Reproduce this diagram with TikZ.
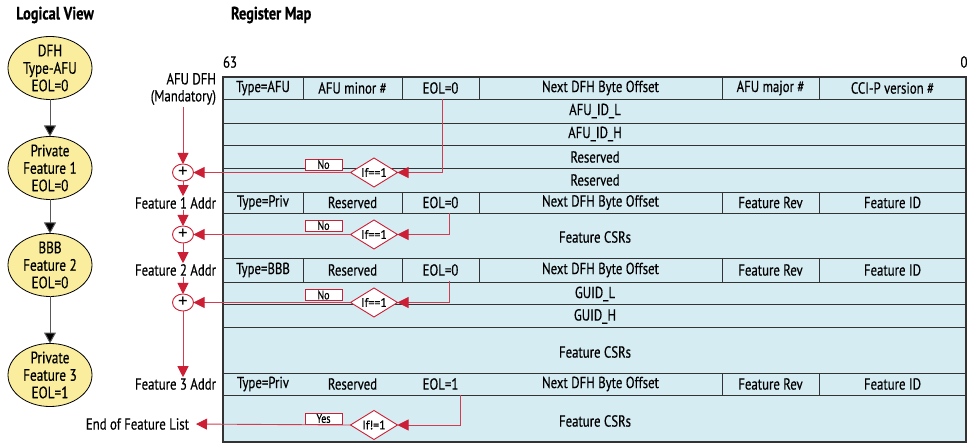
\documentclass[tikz,border=0pt]{standalone}
\usepackage{fontspec}
\setmainfont{PT Sans}[FakeStretch=0.8, FakeBold=0.4]
\newfontfamily\widefont{PT Sans}[FakeStretch=0.95, FakeBold=0.4]
\newfontfamily\thinfont{PT Sans}
\usetikzlibrary{arrows.meta,shapes.geometric,calc}
\definecolor{tblue}{RGB}{213,236,243}
\definecolor{eyel}{RGB}{250,238,158}
\definecolor{ired}{RGB}{204,30,52}
\definecolor{iline}{RGB}{210,60,80}
\begin{document}
\begin{tikzpicture}[x=1pt,y=-1pt,
  every node/.style={inner sep=0pt, outer sep=0pt},
  cell/.style={font=\fontsize{16}{17}\selectfont},
  hcell/.style={cell, minimum height=22pt},
  title/.style={font=\fontsize{18}{20}\selectfont\bfseries},
  lv/.style={ellipse, draw=black, line width=0.8pt, fill=eyel, minimum width=84pt, minimum height=63pt, inner xsep=1pt, inner ysep=-8pt, align=center, font=\fontsize{16.5}{17.5}\selectfont},
  larr/.style={draw=black!65, line width=1pt, -{Triangle[length=11pt,width=12pt,fill=black]}},
  rarr/.style={draw=iline, line width=0.9pt, -{Triangle[length=11pt,width=11pt,color=ired]}},
  addr/.style={anchor=east, font=\fontsize{16}{17}\selectfont, align=right},
  plus/.style={ellipse, draw=ired, fill=white, minimum width=21pt, minimum height=17pt, inner sep=-4pt, line width=0.9pt, font=\thinfont\fontsize{19}{19}\selectfont},
  dec/.style={diamond, draw=ired, fill=white, minimum width=47pt, minimum height=29pt, aspect=1.6, inner sep=-4pt, line width=0.9pt, font=\widefont\fontsize{12.5}{12.5}\selectfont},
  tag/.style={draw=ired, fill=white, minimum width=37pt, minimum height=11pt, inner ysep=-1.5pt, line width=0.9pt, font=\fontsize{12.5}{12.5}\selectfont},
  grid/.style={draw=black!80, line width=0.7pt},
]
\useasboundingbox (0,0) rectangle (968,443);

% titles
\node[title] (tlv) at (55,15) {Logical View};
\node[title, anchor=west] (trm) at (231,15) {Register Map};

% logical view
\node[lv] (l1) at (50,68) {DFH\\Type-AFU\\EOL=0};
\node[lv] (l2) at (50,168) {Private\\Feature 1\\EOL=0};
\node[lv] (l3) at (50,265) {BBB\\Feature 2\\EOL=0};
\node[lv] (l4) at (50,375) {Private\\Feature 3\\EOL=1};
\draw[larr] (l1) -- (l2);
\draw[larr] (l2) -- (l3);
\draw[larr] (l3) -- (l4);

% register map table
\fill[tblue] (223,77) rectangle (966,442);
\foreach \yy in {99,123,145,168,192,213,258,282,304,327,373,395}
  \draw[grid] (223,\yy) -- (966,\yy);
\foreach \xx in {303,402,479,722,819} {
  \draw[grid] (\xx,77) -- (\xx,99);
  \draw[grid] (\xx,192) -- (\xx,213);
  \draw[grid] (\xx,258) -- (\xx,282);
}
\foreach \xx in {722,819}
  \draw[grid] (\xx,373) -- (\xx,395);
\draw[draw=black!80, line width=1.1pt] (223,77) rectangle (966,442);

\node[cell] (b63) at (230,62) {63};
\node[cell] (b0) at (964,62) {0};

% header row AFU
\node[hcell] (c11) at (263,88) {Type=AFU};
\node[hcell] (c12) at (352.5,88) {AFU minor \#};
\node[hcell] (eol1) at (440.5,88) {EOL=0};
\node[hcell] (c14) at (600.5,88) {Next DFH Byte Offset};
\node[hcell] (c15) at (770.5,88) {AFU major \#};
\node[hcell] (c16) at (892.5,88) {CCI-P version \#};
\node[cell] (c2) at (595,111) {AFU\_ID\_L};
\node[cell] (c3) at (595,134) {AFU\_ID\_H};
\node[cell] (c4) at (595,157) {Reserved};
\node[cell] (c5) at (595,180) {Reserved};
% feature 1
\node[hcell] (c61) at (263,202.5) {Type=Priv};
\node[hcell] (c62) at (352.5,202.5) {Reserved};
\node[hcell] (eol2) at (440.5,202.5) {EOL=0};
\node[hcell] (c64) at (600.5,202.5) {Next DFH Byte Offset};
\node[hcell] (c65) at (770.5,202.5) {Feature Rev};
\node[hcell] (c66) at (892.5,202.5) {Feature ID};
\node[cell] (c7) at (595,237) {Feature CSRs};
% feature 2
\node[hcell] (c81) at (263,270) {Type=BBB};
\node[hcell] (c82) at (352.5,270) {Reserved};
\node[hcell] (eol3) at (440.5,270) {EOL=0};
\node[hcell] (c84) at (600.5,270) {Next DFH Byte Offset};
\node[hcell] (c85) at (770.5,270) {Feature Rev};
\node[hcell] (c86) at (892.5,270) {Feature ID};
\node[cell] (c9) at (595,294) {GUID\_L};
\node[cell] (c10) at (595,316.5) {GUID\_H};
\node[cell] (c11b) at (595,352) {Feature CSRs};
% feature 3
\node[hcell] (c121) at (263,384) {Type=Priv};
\node[hcell] (c122) at (352.5,384) {Reserved};
\node[hcell] (eol4) at (440.5,384) {EOL=1};
\node[hcell] (c124) at (600.5,384) {Next DFH Byte Offset};
\node[hcell] (c125) at (770.5,384) {Feature Rev};
\node[hcell] (c126) at (892.5,384) {Feature ID};
\node[cell] (c13) at (595,421) {Feature CSRs};

% address column
\node[addr] (afu) at (216,89) {AFU DFH\\(Mandatory)};
\node[plus] (p1) at (183,172.5) {+};
\node[addr] (f1) at (216,203) {Feature 1 Addr};
\node[plus] (p2) at (183,234.5) {+};
\node[addr] (f2) at (216,270) {Feature 2 Addr};
\node[plus] (p3) at (183,302.5) {+};
\node[addr] (f3) at (216,384) {Feature 3 Addr};
\node[addr] (endl) at (189,424) {End of Feature List};

\draw[rarr] ([yshift=-2pt]afu.south -| p1) -- (p1.north);
\draw[rarr, shorten >=1pt] (p1.south) -- (f1.north -| p1);
\draw[rarr] ([yshift=-1pt]f1.south -| p1) -- (p2.north);
\draw[rarr, shorten >=1pt] (p2.south) -- (f2.north -| p2);
\draw[rarr] ([yshift=-1pt]f2.south -| p2) -- (p3.north);
\draw[rarr, shorten >=1pt] (p3.south) -- (f3.north -| p3);

% decisions
\node[dec] (d1) at (374,172.5) {If==1};
\node[dec] (d2) at (374,234.5) {If==1};
\node[dec] (d3) at (374,302.5) {If==1};
\node[dec] (d4) at (374,425) {If!=1};
\node[tag] (t1) at (323.5,164.5) {No};
\node[tag] (t2) at (323.5,225.5) {No};
\node[tag] (t3) at (323.5,295) {No};
\node[tag] (t4) at (323.5,418.5) {Yes};

\draw[rarr] ([xshift=1.5pt]eol1.south) |- (d1.east);
\draw[rarr] ([xshift=8.5pt]eol2.south) |- (d2.east);
\draw[rarr] ([xshift=8.5pt]eol3.south) |- (d3.east);
\draw[rarr] ([xshift=19.5pt]eol4.south) |- (d4.east);

\draw[rarr] (d1.west) -- (p1.east);
\draw[rarr] (d2.west) -- (p2.east);
\draw[rarr] (d3.west) -- (p3.east);
\draw[rarr, shorten >=7pt] (d4.west) -- (endl.east);
\end{tikzpicture}
\end{document}
